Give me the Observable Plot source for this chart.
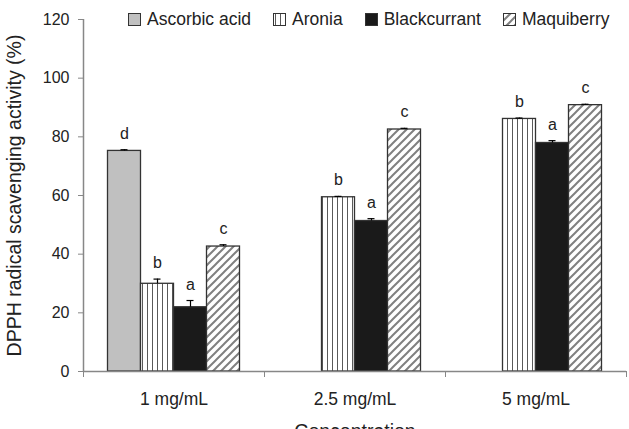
<!DOCTYPE html>
<html>
<head>
<meta charset="utf-8">
<script src="https://cdn.jsdelivr.net/npm/d3@7"></script>
<script src="https://cdn.jsdelivr.net/npm/@observablehq/plot@0.6"></script>
<style>
  html, body { margin: 0; padding: 0; background: #fff; }
  #chart { position: relative; width: 629px; height: 429px; overflow: hidden; font-family: "Liberation Sans", Arial, sans-serif; }
  #legend { position: absolute; top: 12px; left: 128px; display: flex; align-items: center; gap: 22px; font-size: 17.5px; color: #222; line-height: 15px; }
  #legend .item { display: flex; align-items: center; gap: 6px; }
  #legend svg { display: block; }
</style>
</head>
<body>
<svg width="0" height="0" style="position:absolute">
  <defs>
    <pattern id="vstripes" patternUnits="userSpaceOnUse" width="5" height="10">
      <rect width="5" height="10" fill="#fff"/>
      <line x1="2.5" y1="0" x2="2.5" y2="10" stroke="#5a5a5a" stroke-width="1"/>
    </pattern>
    <pattern id="dstripes" patternUnits="userSpaceOnUse" width="8" height="8">
      <rect width="8" height="8" fill="#fff"/>
      <path d="M-2,2 L2,-2 M0,8 L8,0 M6,10 L10,6" stroke="#808080" stroke-width="2"/>
    </pattern>
  </defs>
</svg>
<div id="chart">
  <div id="plot"></div>
  <div id="legend"></div>
</div>
<script>
// Concentrations on the x axis and the four samples
const concentrations = ["1 mg/mL", "2.5 mg/mL", "5 mg/mL"];
const series = ["Ascorbic acid", "Aronia", "Blackcurrant", "Maquiberry"];

// DPPH radical scavenging activity (%) per concentration
const ascorbicAcid = [75.2, null, null];
const aronia = [29.9, 59.4, 86.1];
const blackcurrant = [21.9, 51.3, 77.9];
const maquiberry = [42.6, 82.5, 90.8];

// Standard deviations
const ascorbicAcidErr = [0.4, null, null];
const aroniaErr = [1.6, 0.3, 0.3];
const blackcurrantErr = [2.3, 0.8, 0.8];
const maquiberryErr = [0.6, 0.4, 0.3];

// Significance letters
const ascorbicAcidLetters = ["d", null, null];
const aroniaLetters = ["b", "b", "b"];
const blackcurrantLetters = ["a", "a", "a"];
const maquiberryLetters = ["c", "c", "c"];

const yTicks = [0, 20, 40, 60, 80, 100, 120];

const fills = ["#c0c0c0", "url(#vstripes)", "#1a1a1a", "url(#dstripes)"];

const values = [ascorbicAcid, aronia, blackcurrant, maquiberry];
const errors = [ascorbicAcidErr, aroniaErr, blackcurrantErr, maquiberryErr];
const letters = [ascorbicAcidLetters, aroniaLetters, blackcurrantLetters, maquiberryLetters];

// Each concentration group is one unit wide; four bar slots sit in its middle
const slot = 33 / 181;
const pad = (1 - series.length * slot) / 2;
const left = d => d.g - 0.5 + pad + d.s * slot;
const center = d => left(d) + slot / 2;
const cap = 3.5 / 181;

const bars = concentrations.flatMap((c, g) =>
  series.map((name, s) => ({
    g, s, name, concentration: c,
    value: values[s][g], err: errors[s][g], letter: letters[s][g]
  }))
).filter(d => d.value != null);

const boundaries = d3.range(concentrations.length + 1).map(i => i - 0.5);
const centers = d3.range(concentrations.length);

const axisColor = "#878787";
const textColor = "#222";

const chart = Plot.plot({
  width: 629,
  height: 429,
  marginLeft: 83,
  marginRight: 3,
  marginTop: 19,
  marginBottom: 58,
  x: {domain: [-0.5, 2.5], axis: null},
  y: {domain: [0, 120], axis: null},
  color: {domain: series, range: fills},
  style: {fontFamily: "'Liberation Sans', Arial, sans-serif", fontSize: "16px", color: textColor, background: "#fff"},
  marks: [
    Plot.rectY(bars, {x1: left, x2: d => left(d) + slot, y: "value", fill: "name", stroke: "#333", strokeWidth: 1.3}),
    Plot.ruleX(bars, {x: center, y1: "value", y2: d => d.value + d.err, stroke: "#000", strokeWidth: 1.2}),
    Plot.ruleY(bars, {y: d => d.value + d.err, x1: d => center(d) - cap, x2: d => center(d) + cap, stroke: "#000", strokeWidth: 1.2}),
    Plot.text(bars, {x: center, y: d => d.value + d.err, text: "letter", dy: -11, lineAnchor: "bottom", fontSize: 16, fill: textColor}),
    Plot.ruleY([0], {stroke: axisColor, strokeWidth: 1.5}),
    Plot.ruleX([-0.5], {stroke: axisColor, strokeWidth: 1.5}),
    Plot.axisY({ticks: yTicks, tickSize: 5, tickPadding: 9, label: null, stroke: axisColor, fill: textColor, fontSize: 16}),
    Plot.axisX({ticks: boundaries, tickSize: 6, tickFormat: () => "", label: null, stroke: axisColor}),
    Plot.axisX({ticks: centers, tickSize: 0, tickPadding: 21, tickFormat: i => concentrations[i], label: null, fill: textColor, fontSize: 17.5}),
    Plot.text(["DPPH radical scavenging activity (%)"], {frameAnchor: "left", textAnchor: "middle", rotate: -90, dx: -69, lineAnchor: "middle", fontSize: 19.5, fill: textColor}),
    Plot.text(["Concentration"], {frameAnchor: "bottom", dy: 53, lineAnchor: "top", fontSize: 19.5, fill: textColor})
  ]
});
document.getElementById("plot").appendChild(chart);

// Legend built from the same series names and fills
const legend = d3.select("#legend");
series.forEach((name, i) => {
  const item = legend.append("div").attr("class", "item");
  const sw = item.append("svg").attr("width", 13).attr("height", 13);
  sw.append("rect").attr("x", 0.5).attr("y", 0.5).attr("width", 12).attr("height", 12)
    .attr("fill", fills[i]).attr("stroke", "#333").attr("stroke-width", 1);
  item.append("span").text(name);
});
</script>
</body>
</html>
